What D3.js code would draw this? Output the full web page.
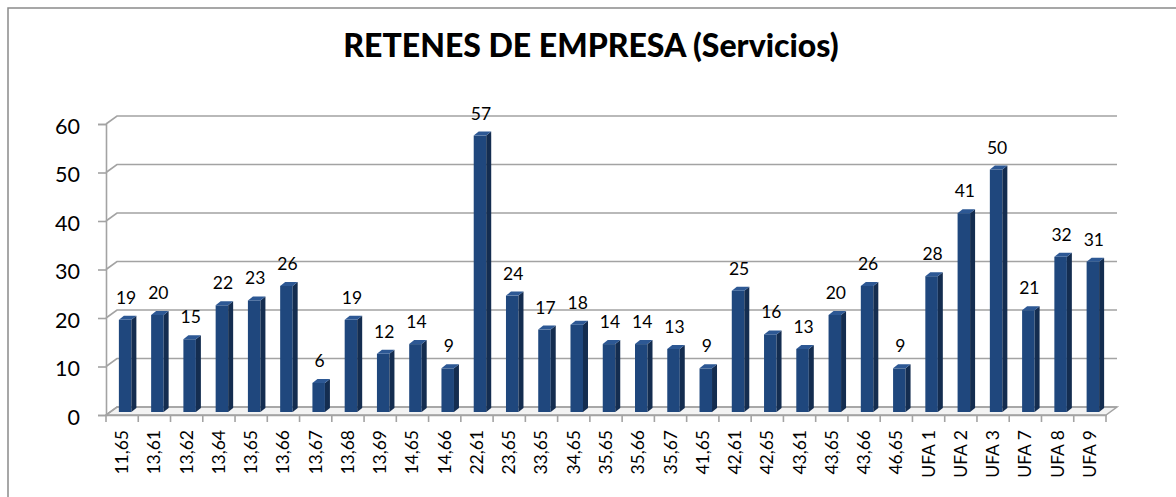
<!DOCTYPE html>
<html><head><meta charset="utf-8">
<script src="https://cdn.jsdelivr.net/npm/d3@7"></script>
<style>body{margin:0;background:#fff}svg{display:block}</style>
</head><body>
<svg id="c" width="1176" height="497"></svg>
<script>
const categories = ["11,65","13,61","13,62","13,64","13,65","13,66","13,67","13,68","13,69","14,65","14,66","22,61","23,65","33,65","34,65","35,65","35,66","35,67","41,65","42,61","42,65","43,61","43,65","43,66","46,65","UFA 1","UFA 2","UFA 3","UFA 7","UFA 8","UFA 9"];
const values = [19,20,15,22,23,26,6,19,12,14,9,57,24,17,18,14,14,13,9,25,16,13,20,26,9,28,41,50,21,32,31];
const yTicks = [0,10,20,30,40,50,60];
const title = "RETENES DE EMPRESA (Servicios)";

const svg = d3.select("#c");
const font = "Lato, 'Open Sans', sans-serif";
const X0 = 106, X1 = 1106, Y0 = 415, Y1 = 124;
const DX = 11, DY = -8;          // wall depth
const BX = 3, BY = -3;           // bar front offset
const BDX = 5, BDY = -4;         // bar depth
const x = d3.scaleBand().domain(categories).range([X0, X1]).paddingInner(0).paddingOuter(0);
const y = d3.scaleLinear().domain([0, 60]).range([Y0, Y1]);

// outer border
svg.append("rect").attr("x", 8).attr("y", 8).attr("width", 1200).attr("height", 600)
  .attr("fill", "none").attr("stroke", "#8a8a8a").attr("stroke-width", 1.5);

// title
svg.append("text").attr("x", 591).attr("y", 57).attr("text-anchor", "middle")
  .attr("font-family", font).attr("font-weight", 900).attr("font-size", 32)
  .text(title);

const grid = "#a3a3a3";
// floor
svg.append("path")
  .attr("d", `M${X0},${Y0} L${X1},${Y0} L${X1+DX},${Y0+DY} L${X0+DX},${Y0+DY} Z`)
  .attr("fill", "#f3f3f3").attr("stroke", grid).attr("stroke-width", 1.5);
// gridlines with side wall diagonal
yTicks.forEach(t => {
  const yy = y(t);
  svg.append("path").attr("d", `M${X0},${yy} L${X0+DX},${yy+DY} L${X1+DX},${yy+DY}`)
    .attr("fill", "none").attr("stroke", grid).attr("stroke-width", 1.6);
});
// y axis
const yAxis = d3.axisLeft(y).tickValues(yTicks).tickSize(8).tickPadding(18);
const ga = svg.append("g").attr("transform", `translate(${X0},0)`).call(yAxis);
ga.select(".domain").attr("stroke", grid).attr("stroke-width", 1.6);
ga.selectAll(".tick line").attr("stroke", grid).attr("stroke-width", 1.6);
ga.selectAll(".tick text").attr("font-family", font).attr("font-weight", 400).attr("font-size", 21.5).attr("fill", "#000").attr("dy", "0.42em");

// x axis
const xAxis = d3.axisBottom(x).tickSize(0).tickFormat("");
const gx = svg.append("g").attr("transform", `translate(0,${Y0})`).call(xAxis);
gx.select(".domain").attr("stroke", grid).attr("stroke-width", 1.6);
const bounds = categories.map(c => x(c)).concat([X1]);
gx.selectAll("line.tk").data(bounds).enter().append("line").attr("class", "tk")
  .attr("x1", d => d).attr("x2", d => d).attr("y1", 0).attr("y2", 7)
  .attr("stroke", grid).attr("stroke-width", 1.6);
gx.selectAll("text.lbl").data(categories).enter().append("text").attr("class", "lbl")
  .attr("transform", d => `translate(${x(d) + x.bandwidth()/2 + 6},15) rotate(-90)`)
  .attr("text-anchor", "end").attr("font-family", font).attr("font-weight", 400).attr("font-size", 17.5).attr("fill", "#000")
  .text(d => d);

// bars
const bw = 12.5;
const bars = svg.append("g");
categories.forEach((c, i) => {
  const v = values[i];
  const xl = x(c) + x.bandwidth()/2 - bw/2 + BX;
  const yt = y(v) + BY, yb = y(0) + BY;
  const g = bars.append("g");
  g.append("rect").attr("x", xl).attr("y", yt).attr("width", bw).attr("height", yb - yt).attr("fill", "#1f477d");
  g.append("path").attr("d", `M${xl+bw},${yt} L${xl+bw+BDX},${yt+BDY} L${xl+bw+BDX},${yb+BDY} L${xl+bw},${yb} Z`).attr("fill", "#142d50");
  g.append("path").attr("d", `M${xl},${yt} L${xl+BDX},${yt+BDY} L${xl+bw+BDX},${yt+BDY} L${xl+bw},${yt} Z`).attr("fill", "#2d5894");
  svg.append("text").attr("x", x(c) + x.bandwidth()/2 + 4).attr("y", y(v) - 19)
    .attr("text-anchor", "middle").attr("font-family", font).attr("font-weight", 400).attr("font-size", 17.5).attr("fill", "#000")
    .text(v);
});
</script>
</body></html>
